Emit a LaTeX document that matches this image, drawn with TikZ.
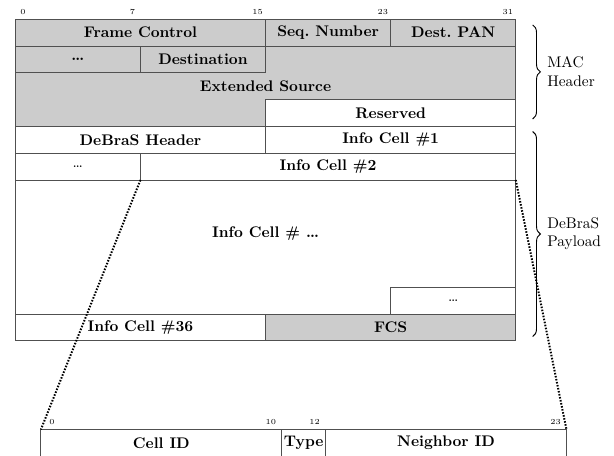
\documentclass[tikz,border=0pt]{standalone}
\usepackage{tikz}
\usetikzlibrary{decorations.pathreplacing}
\definecolor{fieldgray}{RGB}{204,204,204}
\definecolor{ruleline}{RGB}{80,80,80}

\begin{document}
\begin{tikzpicture}[x=10.17pt, y=17.42pt,
  field/.style={draw=ruleline, line width=0.6pt, inner sep=0pt, outer sep=0pt,
    anchor=north west, minimum height=17.42pt, font=\bfseries},
  bits/.style={minimum width=#1*10.17pt},
  greyed/.style={fill=fieldgray},
  bitnum/.style={font=\tiny, inner sep=0pt},
  zoomline/.style={line width=1.3pt, dash pattern=on 1pt off 1pt},
  hbrace/.style={decorate, decoration={brace, amplitude=5pt}, line width=0.6pt}]
  \useasboundingbox (-0.978,0.72) rectangle (38.28,-16.295);
  %% 1. Bit numbers
  \node[bitnum] (b0)  at (0.5,0.28)  {0};
  \node[bitnum] (b7)  at (7.5,0.28)  {7};
  \node[bitnum] (b15) at (15.5,0.28) {15};
  \node[bitnum] (b23) at (23.5,0.28) {23};
  \node[bitnum] (b31) at (31.5,0.28) {31};
  %% 2. MAC header
  \node[field, greyed, bits=16] (fc)   at (0,0)  {Frame Control};
  \node[field, greyed, bits=8]  (seq)  at (16,0) {Seq.\ Number};
  \node[field, greyed, bits=8]  (pan)  at (24,0) {Dest.\ PAN};
  \node[field, greyed, bits=8]  (dots1) at (0,-1) {\dots};
  \node[field, greyed, bits=8]  (dest) at (8,-1) {Destination};
  \filldraw[fill=fieldgray, draw=ruleline, line width=0.6pt]
    (16,-1) -- (32,-1) -- (32,-3) -- (16,-3) -- (16,-4) -- (0,-4) -- (0,-2) -- (16,-2) -- cycle;
  \node[font=\bfseries] (exsrc) at (16,-2.5) {Extended Source};
  \node[field, bits=16] (res) at (16,-3) {Reserved};
  %% 3. DeBraS payload
  \node[field, bits=16] (dbh)  at (0,-4)  {DeBraS Header};
  \node[field, bits=16] (ic1)  at (16,-4) {Info Cell \#1};
  \node[field, bits=8, font=\normalfont] (dots2) at (0,-5) {\dots};
  \node[field, bits=24] (ic2)  at (8,-5)  {Info Cell \#2};
  \node[field, bits=32, minimum height=5*17.42pt] (body) at (0,-6) {};
  \node[font=\bfseries] (icn) at (16,-8) {Info Cell \# \dots};
  \node[field, bits=8, font=\normalfont] (dots3) at (24,-10) {\dots};
  \node[field, bits=16] (ic36) at (0,-11) {Info Cell \#36};
  \node[field, greyed, bits=16] (fcs) at (16,-11) {FCS};
  %% 4. Braces
  \draw[hbrace] (33.08,-0.21) -- (33.08,-3.72);
  \node[anchor=west, align=left, inner sep=0pt] (mac) at (34.0,-1.96) {MAC\\Header};
  \draw[hbrace] (33.08,-4.19) -- (33.08,-11.84);
  \node[anchor=west, align=left, inner sep=0pt] (pay) at (34.0,-8.0) {DeBraS\\Payload};
  %% 5. Info cell layout
  \node[bitnum] (c0)  at (2.34,-15.03)  {0};
  \node[bitnum] (c10) at (16.34,-15.03) {10};
  \node[bitnum] (c12) at (19.14,-15.03) {12};
  \node[bitnum] (c23) at (34.54,-15.03) {23};
  \node[field, bits=15.4] (cid)  at (1.64,-15.31)  {Cell ID};
  \node[field, bits=2.8]  (type) at (17.04,-15.31) {Type};
  \node[field, bits=15.4] (nid)  at (19.84,-15.31) {Neighbor ID};
  %% 6. Zoom lines
  \draw[zoomline] (ic2.south west) -- (cid.north west);
  \draw[zoomline] (ic2.south east) -- (nid.north east);
\end{tikzpicture}
\end{document}
